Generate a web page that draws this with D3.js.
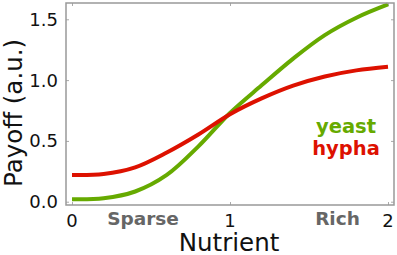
<!DOCTYPE html>
<html><head><meta charset="utf-8">
<script src="https://cdn.jsdelivr.net/npm/d3@7"></script>
<style>body{margin:0;background:#fff}svg{display:block}text{font-family:"DejaVu Sans",sans-serif}</style>
</head><body>
<script>
const nutrient = [0, 0.2, 0.4, 0.6, 0.8, 1.0, 1.2, 1.4, 1.6, 1.8, 2.0];
const yeast = [0.02, 0.028, 0.084, 0.22, 0.455, 0.73, 0.957, 1.177, 1.37, 1.513, 1.622];
const hypha = [0.22, 0.228, 0.283, 0.405, 0.553, 0.72, 0.85, 0.955, 1.03, 1.08, 1.11];
const xTicks = [0, 1, 2];
const yTicks = [0.0, 0.5, 1.0, 1.5];
const seriesNames = ["yeast", "hypha"];
const colors = {yeast: "#66aa00", hypha: "#dd1100"};

const W = 397, H = 255;
const m = {left: 66, top: 3, right: 3, bottom: 50};
const svg = d3.select("body").append("svg").attr("width", W).attr("height", H);
const x = d3.scaleLinear().domain([-0.038, 2.038]).range([m.left, W - m.right]);
const y = d3.scaleLinear().domain([-0.027, 1.634]).range([H - m.bottom, m.top]);

const tickCol = "#aaa";
const g = svg.append("g");
g.append("g").attr("transform", `translate(0,${y.range()[0]})`)
  .call(d3.axisTop(x).tickValues(xTicks).tickSize(3).tickFormat(""));
g.append("g").attr("transform", `translate(0,${y.range()[1]})`)
  .call(d3.axisBottom(x).tickValues(xTicks).tickSize(3).tickFormat(""));
g.append("g").attr("transform", `translate(${x.range()[0]},0)`)
  .call(d3.axisRight(y).tickValues(yTicks).tickSize(3).tickFormat(""));
g.append("g").attr("transform", `translate(${x.range()[1]},0)`)
  .call(d3.axisLeft(y).tickValues(yTicks).tickSize(3).tickFormat(""));
g.selectAll(".domain").remove();
g.selectAll(".tick line").attr("stroke", tickCol).attr("stroke-width", 1);

svg.append("g").selectAll("text").data(xTicks).join("text")
  .attr("x", d => x(d)).attr("y", 227).attr("text-anchor", "middle")
  .attr("font-size", 18).attr("fill", "#111").text(d => d3.format("d")(d));
svg.append("g").selectAll("text").data(yTicks).join("text")
  .attr("x", 58).attr("y", d => y(d)).attr("dy", "0.36em").attr("text-anchor", "end")
  .attr("font-size", 18).attr("fill", "#111").text(d => d3.format(".1f")(d));

const line = d3.line().x((d, i) => x(nutrient[i])).y(d => y(d)).curve(d3.curveCatmullRom.alpha(0.5));
svg.append("path").datum(yeast).attr("d", line).attr("fill", "none")
  .attr("stroke", colors.yeast).attr("stroke-width", 4);
svg.append("path").datum(hypha).attr("d", line).attr("fill", "none")
  .attr("stroke", colors.hypha).attr("stroke-width", 4);

svg.append("rect").attr("x", x.range()[0]).attr("y", y.range()[1])
  .attr("width", x.range()[1] - x.range()[0]).attr("height", y.range()[0] - y.range()[1])
  .attr("fill", "none").attr("stroke", "#999").attr("stroke-width", 1.5);

svg.append("g").selectAll("text").data(seriesNames).join("text")
  .attr("x", 346).attr("y", (d, i) => 133 + i * 22).attr("text-anchor", "middle")
  .attr("font-size", 19.5).attr("font-weight", "bold").attr("fill", d => colors[d]).text(d => d);

svg.append("text").attr("x", 143).attr("y", 225).attr("text-anchor", "middle")
  .attr("font-size", 18.5).attr("font-weight", "bold").attr("fill", "#666").text("Sparse");
svg.append("text").attr("x", 337.5).attr("y", 225).attr("text-anchor", "middle")
  .attr("font-size", 18.5).attr("font-weight", "bold").attr("fill", "#666").text("Rich");

svg.append("text").attr("x", 229).attr("y", 250.5).attr("text-anchor", "middle")
  .attr("font-size", 24.5).attr("fill", "#111").text("Nutrient");
svg.append("text").attr("transform", "translate(21.5,113) rotate(-90)").attr("text-anchor", "middle")
  .attr("font-size", 24.5).attr("fill", "#111").text("Payoff (a.u.)");
</script>
</body></html>
